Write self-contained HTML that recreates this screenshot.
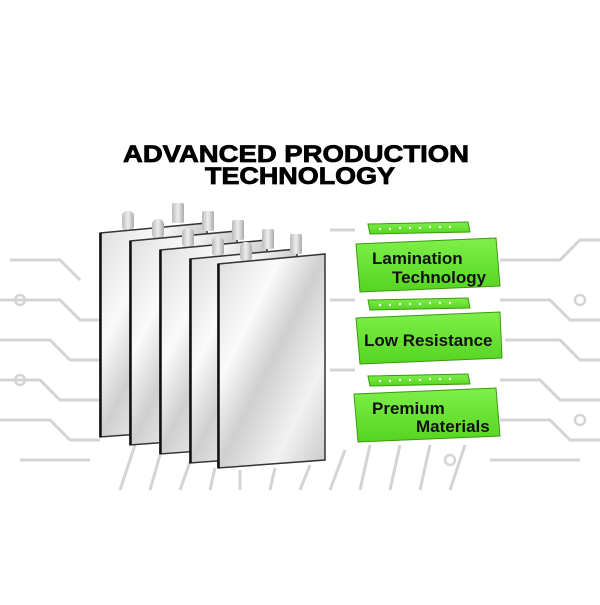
<!DOCTYPE html>
<html><head><style>
body{margin:0;background:#fff;width:600px;height:600px;overflow:hidden;font-family:"Liberation Sans",sans-serif}
</style></head><body>
<svg width="600" height="600" viewBox="0 0 600 600" xmlns="http://www.w3.org/2000/svg">
<defs>
<linearGradient id="pg" x1="0" y1="0" x2="1" y2="1">
<stop offset="0" stop-color="#ddd"/><stop offset="0.3" stop-color="#fafafa"/><stop offset="0.5" stop-color="#cfcfcf"/><stop offset="0.75" stop-color="#f2f2f2"/><stop offset="1" stop-color="#c8c8c8"/>
</linearGradient>
<linearGradient id="tg" x1="0" y1="0" x2="1" y2="0">
<stop offset="0" stop-color="#bbb"/><stop offset="0.5" stop-color="#eee"/><stop offset="1" stop-color="#aaa"/>
</linearGradient>
<linearGradient id="gg" x1="0" y1="0" x2="0" y2="1">
<stop offset="0" stop-color="#7ef04a"/><stop offset="1" stop-color="#56d420"/>
</linearGradient>
</defs>
<g stroke="#d4d4d4" stroke-width="3" fill="none">
<path d="M0 300 L60 300 L80 320 L100 320"/><path d="M0 340 L50 340 L70 360 L100 360"/>
<path d="M0 380 L40 380 L60 400 L100 400"/><path d="M10 260 L60 260 L80 280"/>
<path d="M0 420 L50 420 L70 440 L100 440"/><path d="M20 460 L90 460"/>
<path d="M500 260 L560 260 L580 240 L600 240"/><path d="M500 300 L550 300 L570 320 L600 320"/>
<path d="M505 340 L560 340 L580 360 L600 360"/><path d="M500 380 L540 380 L560 400 L600 400"/>
<path d="M500 420 L550 420 L570 440 L600 440"/><path d="M490 460 L580 460"/>
<path d="M120 490 L135 445"/><path d="M150 490 L160 455"/><path d="M180 490 L190 462"/>
<path d="M210 490 L215 468"/><path d="M240 490 L240 470"/><path d="M270 490 L275 468"/>
<path d="M300 490 L310 465"/><path d="M330 490 L345 450"/><path d="M360 490 L370 445"/>
<path d="M390 490 L400 445"/><path d="M420 490 L430 445"/><path d="M450 490 L465 445"/>
<path d="M330 230 L355 230"/><path d="M330 300 L355 300"/><path d="M330 370 L355 370"/>
</g>
<g fill="none" stroke="#d4d4d4" stroke-width="2.5">
<circle cx="20" cy="300" r="5"/><circle cx="20" cy="380" r="5"/><circle cx="580" cy="300" r="5"/><circle cx="580" cy="420" r="5"/><circle cx="450" cy="460" r="5"/>
</g>
<g font-size="24" font-weight="bold" fill="#000" stroke="#000" stroke-width="0.8">
<text x="123" y="162" textLength="346" lengthAdjust="spacingAndGlyphs">ADVANCED PRODUCTION</text>
<text x="205" y="184" textLength="190" lengthAdjust="spacingAndGlyphs">TECHNOLOGY</text>
</g>
<g id="cells">
<g transform="translate(100,227)">
<rect x="22" y="-16" width="12" height="20" rx="5" fill="url(#tg)"/><rect x="72" y="-24" width="12" height="20" rx="2" fill="url(#tg)"/>
<polygon points="0,6 107,-4 107,202 0,210" fill="url(#pg)" stroke="#333" stroke-width="1.5"/><line x1="0.5" y1="6" x2="0.5" y2="210" stroke="#111" stroke-width="2.5"/></g>
<g transform="translate(130,235)">
<rect x="22" y="-16" width="12" height="20" rx="5" fill="url(#tg)"/><rect x="72" y="-24" width="12" height="20" rx="2" fill="url(#tg)"/>
<polygon points="0,6 107,-4 107,202 0,210" fill="url(#pg)" stroke="#333" stroke-width="1.5"/><line x1="0.5" y1="6" x2="0.5" y2="210" stroke="#111" stroke-width="2.5"/></g>
<g transform="translate(160,244)">
<rect x="22" y="-16" width="12" height="20" rx="5" fill="url(#tg)"/><rect x="72" y="-24" width="12" height="20" rx="2" fill="url(#tg)"/>
<polygon points="0,6 107,-4 107,202 0,210" fill="url(#pg)" stroke="#333" stroke-width="1.5"/><line x1="0.5" y1="6" x2="0.5" y2="210" stroke="#111" stroke-width="2.5"/></g>
<g transform="translate(190,253)">
<rect x="22" y="-16" width="12" height="20" rx="5" fill="url(#tg)"/><rect x="72" y="-24" width="12" height="20" rx="2" fill="url(#tg)"/>
<polygon points="0,6 107,-4 107,202 0,210" fill="url(#pg)" stroke="#333" stroke-width="1.5"/><line x1="0.5" y1="6" x2="0.5" y2="210" stroke="#111" stroke-width="2.5"/></g>
<g transform="translate(218,258)">
<rect x="22" y="-16" width="12" height="20" rx="5" fill="url(#tg)"/><rect x="72" y="-24" width="12" height="20" rx="2" fill="url(#tg)"/>
<polygon points="0,6 107,-4 107,202 0,210" fill="url(#pg)" stroke="#333" stroke-width="1.5"/><line x1="0.5" y1="6" x2="0.5" y2="210" stroke="#111" stroke-width="2.5"/></g>
</g>
<g font-weight="bold" fill="#111" font-size="17">
<path d="M368 224 L468 222 L470 232 L370 234 Z" fill="url(#gg)" stroke="#3a9a10"/>
<path d="M356 244 L496 238 L500 286 L360 292 Z" fill="url(#gg)" stroke="#3a9a10"/>
<text x="372" y="264">Lamination</text><text x="392" y="283">Technology</text>
<path d="M368 300 L468 298 L470 308 L370 310 Z" fill="url(#gg)" stroke="#3a9a10"/>
<path d="M356 318 L500 312 L502 358 L360 364 Z" fill="url(#gg)" stroke="#3a9a10"/>
<text x="364" y="346">Low Resistance</text>
<path d="M368 376 L468 374 L470 384 L370 386 Z" fill="url(#gg)" stroke="#3a9a10"/>
<path d="M354 394 L496 388 L500 436 L358 442 Z" fill="url(#gg)" stroke="#3a9a10"/>
<text x="372" y="414">Premium</text><text x="416" y="432">Materials</text>
</g>
<g fill="#fff">
<circle cx="380" cy="229" r="1.2"/><circle cx="390" cy="229" r="1.2"/><circle cx="400" cy="228" r="1.2"/><circle cx="410" cy="228" r="1.2"/><circle cx="420" cy="228" r="1.2"/><circle cx="430" cy="227" r="1.2"/><circle cx="440" cy="227" r="1.2"/><circle cx="450" cy="227" r="1.2"/>
<circle cx="380" cy="305" r="1.2"/><circle cx="390" cy="305" r="1.2"/><circle cx="400" cy="304" r="1.2"/><circle cx="410" cy="304" r="1.2"/><circle cx="420" cy="304" r="1.2"/><circle cx="430" cy="303" r="1.2"/><circle cx="440" cy="303" r="1.2"/><circle cx="450" cy="303" r="1.2"/>
<circle cx="380" cy="381" r="1.2"/><circle cx="390" cy="381" r="1.2"/><circle cx="400" cy="380" r="1.2"/><circle cx="410" cy="380" r="1.2"/><circle cx="420" cy="380" r="1.2"/><circle cx="430" cy="379" r="1.2"/><circle cx="440" cy="379" r="1.2"/><circle cx="450" cy="379" r="1.2"/>
</g>
</svg>
</body></html>
